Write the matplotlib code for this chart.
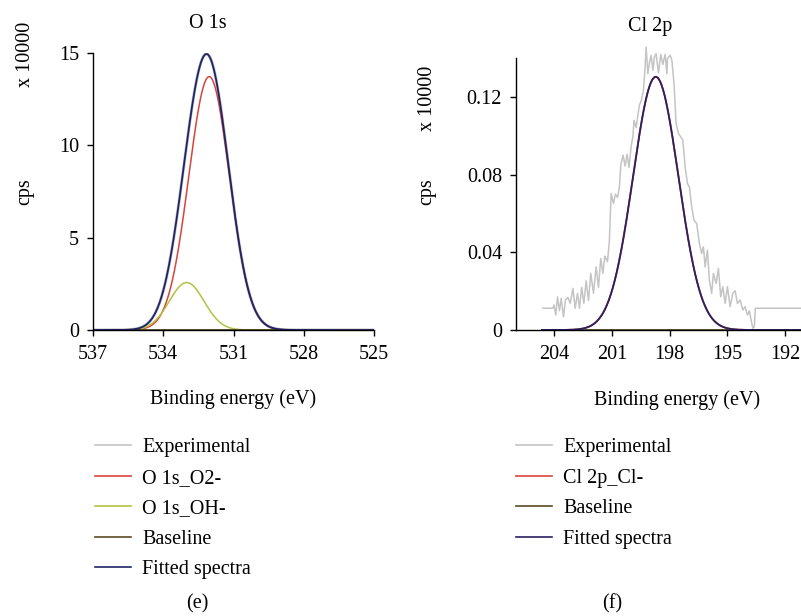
import numpy as np
import matplotlib
matplotlib.use("Agg")
import matplotlib.pyplot as plt

# ---- O 1s panel (e): fitted Gaussian components, values in units of 10000 cps
o1s_labels = ["O 1s_O2-", "O 1s_OH-"]
o1s_centers = [532.04, 533.0]
o1s_heights = [13.72, 2.57]
o1s_fwhm = [2.05, 1.75]
o1s_range = (537.0, 525.0)
o1s_baseline_range = (535.85, 528.6)

# ---- Cl 2p panel (f)
cl_center = 198.73
cl_height = 0.1303
cl_fwhm = 2.78
cl_range = (204.65, 189.3)

cl_exp_energy = [
    204.60, 204.08, 204.02, 203.93, 203.84, 203.74, 203.65, 203.53, 203.43, 203.30,
    203.18, 203.04, 202.92, 202.80, 202.70, 202.58, 202.47, 202.35, 202.23, 202.11,
    201.97, 201.83, 201.71, 201.59, 201.48, 201.38, 201.24, 201.14, 201.05, 200.93,
    200.83, 200.72, 200.62, 200.55, 200.43, 200.32, 200.22, 200.12, 200.01, 199.92,
    199.86, 199.75, 199.68, 199.58, 199.48, 199.37, 199.30, 199.23, 199.14, 199.06,
    198.97, 198.88, 198.80, 198.71, 198.59, 198.47, 198.36, 198.24, 198.15, 198.12,
    197.98, 197.89, 197.78, 197.67, 197.55, 197.43, 197.32, 197.20, 197.08, 196.98,
    196.86, 196.74, 196.60, 196.46, 196.34, 196.25, 196.16, 196.04, 195.94, 195.82,
    195.73, 195.59, 195.47, 195.35, 195.24, 195.12, 195.00, 194.86, 194.72, 194.60,
    194.48, 194.34, 194.20, 194.08, 193.96, 193.86, 193.77, 193.68, 193.60, 193.55,
    189.30,
]
cl_exp_cps = [
    0.0112, 0.0112, 0.0129, 0.0077, 0.0171, 0.0099, 0.0163, 0.0068, 0.0154, 0.0168,
    0.0137, 0.0214, 0.0112, 0.0189, 0.0112, 0.0219, 0.0137, 0.0253, 0.0151, 0.0291,
    0.0189, 0.0325, 0.0219, 0.0368, 0.0291, 0.0380, 0.0351, 0.0463, 0.0703, 0.0651,
    0.0699, 0.0682, 0.0737, 0.0848, 0.0900, 0.0843, 0.0905, 0.0836, 0.0946, 0.0994,
    0.1079, 0.1042, 0.1093, 0.1157, 0.1182, 0.1234, 0.1328, 0.1456, 0.1319, 0.1374,
    0.1414, 0.1336, 0.1405, 0.1422, 0.1323, 0.1419, 0.1367, 0.1419, 0.1319, 0.1397,
    0.1414, 0.1388, 0.1268, 0.1062, 0.1011, 0.0994, 0.0977, 0.0839, 0.0754, 0.0737,
    0.0634, 0.0565, 0.0548, 0.0446, 0.0394, 0.0428, 0.0325, 0.0411, 0.0257, 0.0189,
    0.0291, 0.0240, 0.0317, 0.0171, 0.0223, 0.0137, 0.0223, 0.0120, 0.0189, 0.0202,
    0.0137, 0.0154, 0.0103, 0.0120, 0.0077, 0.0099, 0.0051, 0.0009, 0.0017, 0.0112,
    0.0112,
]

C_EXP = "#c4c4c4"
C_RED = "#d8443c"
C_GREEN = "#b3c242"
C_BASE = "#5b4a26"
C_FIT = "#1f2466"
C_FIT_CL = "#2a2160"


def gauss(x, center, height, fwhm):
    return height * np.exp(-4 * np.log(2) * ((x - center) / fwhm) ** 2)


plt.rcParams["font.family"] = ["Liberation Serif", "DejaVu Serif"]
FS = 14.5
plt.rcParams["font.size"] = FS

fig = plt.figure(figsize=(8.01, 6.16), dpi=100)
W, H = 801.0, 616.0


def style_axes(ax):
    ax.spines["top"].set_visible(False)
    ax.spines["right"].set_visible(False)
    ax.spines["left"].set_linewidth(1.0)
    ax.spines["bottom"].set_linewidth(1.0)
    ax.tick_params(direction="out", length=4, width=1.0, labelsize=FS)
    ax.tick_params(axis="x", pad=7)
    ax.tick_params(axis="y", pad=6)


# ---- panel (e)
ax1 = fig.add_axes([93 / W, 1 - 330 / H, (374 - 93) / W, (330 - 53) / H])
x1 = np.linspace(o1s_range[0], o1s_range[1], 600)
comps = [gauss(x1, c, h, w) for c, h, w in zip(o1s_centers, o1s_heights, o1s_fwhm)]
fit1 = comps[0] + comps[1]
ax1.plot(x1, fit1, color=C_EXP, lw=2.2, label="Experimental")
ax1.plot(x1, comps[0], color=C_RED, lw=1.1, label=o1s_labels[0])
ax1.plot(x1, comps[1], color=C_GREEN, lw=1.1, label=o1s_labels[1])
ax1.plot(list(o1s_baseline_range), [0, 0], color=C_BASE, lw=1.3, label="Baseline")
ax1.plot(x1, fit1, color=C_FIT, lw=1.3, label="Fitted spectra")
ax1.set_xlim(*o1s_range)
ax1.set_ylim(0, 15)
ax1.set_xticks([537, 534, 531, 528, 525])
ax1.set_yticks([0, 5, 10, 15])
style_axes(ax1)

# ---- panel (f)
ax2 = fig.add_axes([516 / W, 1 - 330 / H, (837 - 516) / W, (330 - 58) / H])
x2 = np.linspace(cl_range[0], cl_range[1], 600)
cl_fit = gauss(x2, cl_center, cl_height, cl_fwhm)
ax2.plot(cl_exp_energy, cl_exp_cps, color=C_EXP, lw=1.1, label="Experimental", clip_on=False)
ax2.plot(x2, cl_fit, color=C_RED, lw=1.3, label="Cl 2p_Cl-")
ax2.plot(x2, np.zeros_like(x2), color=C_BASE, lw=1.3, label="Baseline")
ax2.plot(x2, cl_fit, color=C_FIT_CL, lw=1.3, label="Fitted spectra")
ax2.set_xlim(206.0, 189.3)
ax2.set_ylim(0, 0.14)
ax2.set_xticks([204, 201, 198, 195, 192])
ax2.set_yticks([0, 0.04, 0.08, 0.12])
ax2.set_yticklabels(["0", "0.04", "0.08", "0.12"])
style_axes(ax2)

# ---- titles, axis labels, captions
fig.text(208 / W, 1 - 23 / H, "O 1s", ha="center", va="center", fontsize=FS)
fig.text(650 / W, 1 - 27 / H, "Cl 2p", ha="center", va="center", fontsize=FS)
for xc, y_cps, y_mult in [(25, 192, 54), (427, 192, 98)]:
    fig.text(xc / W, 1 - y_cps / H, "cps", rotation=90, ha="center", va="center", fontsize=FS)
    fig.text(xc / W, 1 - y_mult / H, "x 10000", rotation=90, ha="center", va="center", fontsize=FS)
fig.text(233 / W, 1 - 399 / H, "Binding energy (eV)", ha="center", va="center", fontsize=FS)
fig.text(677 / W, 1 - 400 / H, "Binding energy (eV)", ha="center", va="center", fontsize=FS)
fig.text(197 / W, 1 - 604 / H, "(e)", ha="center", va="center", fontsize=FS)
fig.text(612 / W, 1 - 604 / H, "(f)", ha="center", va="center", fontsize=FS)

leg_kw = dict(loc="upper left", frameon=False, borderpad=0, borderaxespad=0,
              handlelength=1.8, handletextpad=0.55, labelspacing=0.57, fontsize=FS)
h1, l1 = ax1.get_legend_handles_labels()
leg1 = fig.legend(h1, l1, bbox_to_anchor=(95 / W, 1 - 438 / H), **leg_kw)
h2, l2 = ax2.get_legend_handles_labels()
leg2 = fig.legend(h2, l2, bbox_to_anchor=(516 / W, 1 - 438 / H), **leg_kw)
for leg in (leg1, leg2):
    for line in leg.get_lines():
        line.set_linewidth(1.2)

fig.savefig("out.png", dpi=100)
